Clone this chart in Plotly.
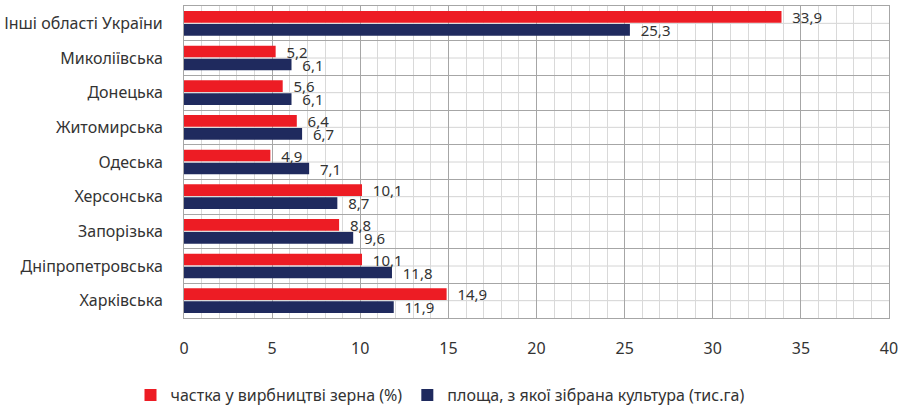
import plotly.graph_objects as go

categories = ["Харківська", "Дніпропетровська", "Запорізька", "Херсонська", "Одеська",
              "Житомирська", "Донецька", "Миколіївська", "Інші області України"]
share_grain = [14.9, 10.1, 8.8, 10.1, 4.9, 6.4, 5.6, 5.2, 33.9]
area_harvested = [11.9, 11.8, 9.6, 8.7, 7.1, 6.7, 6.1, 6.1, 25.3]
series_names = ["частка у вирбництві зерна (%)", "площа, з якої зібрана культура (тис.га)"]
x_ticks = [0, 5, 10, 15, 20, 25, 30, 35, 40]

RED = "#ED1C24"
NAVY = "#1F2A5E"
FONT = "Noto Sans"
TXT = "#333333"
FS = 16

def fmt(v):
    return ("%.1f" % v).replace(".", ",")

fig = go.Figure()
fig.add_trace(go.Bar(
    y=categories, x=area_harvested, orientation="h", name=series_names[1],
    marker=dict(color=NAVY, line=dict(width=0)),
    text=[fmt(v) for v in area_harvested], texttemplate="\u00a0\u00a0%{text}",
    textposition="outside", cliponaxis=False, constraintext="none",
    textfont=dict(family=FONT, size=15, color=TXT), legendrank=2,
    hoverinfo="skip",
))
fig.add_trace(go.Bar(
    y=categories, x=share_grain, orientation="h", name=series_names[0],
    marker=dict(color=RED, line=dict(width=0)),
    text=[fmt(v) for v in share_grain], texttemplate="\u00a0\u00a0%{text}",
    textposition="outside", cliponaxis=False, constraintext="none",
    textfont=dict(family=FONT, size=15, color=TXT), legendrank=1,
    hoverinfo="skip",
))

shapes = []
for c in categories:
    shapes.append(dict(type="line", xref="paper", x0=0, x1=1, yref="y", y0=c, y1=c,
                       line=dict(color="#D4D4D4", width=1), layer="below"))

fig.update_layout(
    width=900, height=407,
    margin=dict(l=184, r=11, t=6, b=89, autoexpand=False),
    paper_bgcolor="white", plot_bgcolor="white",
    barmode="group", bargap=0.25, bargroupgap=0.1,
    font=dict(family=FONT, size=FS, color=TXT),
    shapes=shapes,
    xaxis=dict(
        range=[0, 40], tickvals=x_ticks, ticktext=[str(v) for v in x_ticks],
        showgrid=True, gridcolor="#A6A6A6", gridwidth=1,
        minor=dict(dtick=1, showgrid=True, gridcolor="#D9D9D9", gridwidth=1),
        showline=True, linecolor="#A6A6A6", mirror=True,
        ticks="outside", ticklen=16, tickcolor="rgba(0,0,0,0)",
        tickfont=dict(family=FONT, size=FS, color=TXT), zeroline=False,
        automargin=False,
    ),
    yaxis=dict(
        type="category", categoryorder="array", categoryarray=categories,
        tickson="boundaries", showgrid=True, gridcolor="#A6A6A6", gridwidth=1,
        showline=True, linecolor="#A6A6A6", mirror=True,
        ticks="", ticklabelstandoff=17,
        tickfont=dict(family=FONT, size=FS, color=TXT),
        automargin=False,
    ),
    legend=dict(orientation="h", xref="container", yref="container",
                x=0.145, xanchor="left", y=1 - 395 / 407, yanchor="middle",
                font=dict(family=FONT, size=FS, color=TXT), itemclick=False),
    showlegend=True,
)

fig.write_html("out.html", config={"displayModeBar": False},
               post_script="document.body.style.margin='0';document.body.style.padding='0';")
